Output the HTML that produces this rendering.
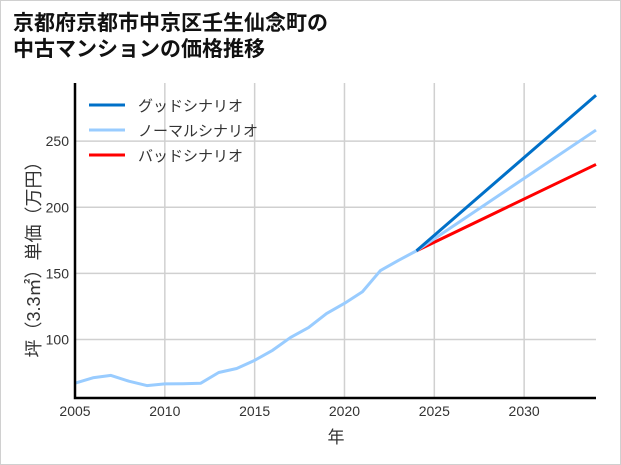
<!DOCTYPE html>
<html><head><meta charset="utf-8"><style>
body{margin:0;background:#fff}
#wrap{position:relative;width:619px;height:463px;border:1px solid #d0d0d0;background:#fff;font-family:"Liberation Sans","Noto Sans CJK JP",sans-serif}
h1{position:absolute;left:12px;top:8px;margin:0;font-size:21px;line-height:26px;font-weight:bold;color:#111;font-family:"Noto Sans CJK JP",sans-serif}
svg text{font-family:"Liberation Sans","Noto Sans CJK JP",sans-serif}
</style></head><body>
<div id="wrap">
<h1>京都府京都市中京区壬生仙念町の<br>中古マンションの価格推移</h1>
<svg id="chart" width="621" height="465" style="position:absolute;left:-1px;top:-1px"></svg>
</div>
<script>
const years=[2005,2006,2007,2008,2009,2010,2011,2012,2013,2014,2015,2016,2017,2018,2019,2020,2021,2022,2023,2024];
const history=[66.9,71,72.8,68.4,65.1,66.4,66.5,66.9,75,78,84.2,91.8,101.5,109,119.6,127.3,136.1,152.1,159.8,167];
const scenarioYears=[2024,2034];
const goodValues=[167,284.7];
const normalValues=[167,258.4];
const badValues=[167,232.4];
const xTicks=[2005,2010,2015,2020,2025,2030];
const yTicks=[100,150,200,250];
const legendLabels=["グッドシナリオ","ノーマルシナリオ","バッドシナリオ"];

const L=75,R=596,T=83,B=398;
const xMin=2005,xMax=2034,yMin=55.7,yMax=294;
const X=v=>L+(v-xMin)/(xMax-xMin)*(R-L);
const Y=v=>B-(v-yMin)/(yMax-yMin)*(B-T);
const svg=document.getElementById('chart');
const NS='http://www.w3.org/2000/svg';
function mk(tag,attrs){const e=document.createElementNS(NS,tag);for(const k in attrs)e.setAttribute(k,attrs[k]);svg.appendChild(e);return e;}

xTicks.forEach(t=>{
  const g=mk('line',{x1:X(t),x2:X(t),y1:T,y2:B,stroke:'#d0d0d0','stroke-width':1.5});
  
  
  const tx=mk('text',{x:X(t),y:B+18,'text-anchor':'middle','font-size':14,fill:'#333'});
  tx.textContent=t;
  
  
});
yTicks.forEach(t=>{
  const g=mk('line',{x1:L,x2:R,y1:Y(t),y2:Y(t),stroke:'#d0d0d0','stroke-width':1.5});
  
  
  const tx=mk('text',{x:L-6,y:Y(t)+5,'text-anchor':'end','font-size':14,fill:'#333'});
  tx.textContent=t;
  
  
});
function line(xs,ys,color,name){
  const p=mk('polyline',{points:xs.map((x,i)=>X(x)+','+Y(ys[i])).join(' '),fill:'none',stroke:color,'stroke-width':3,'stroke-linejoin':'round'});
  
  
}
line(scenarioYears,badValues,'#ff0000','bad-scenario-line');
line(scenarioYears,normalValues,'#99ccff','normal-scenario-line');
line(scenarioYears,goodValues,'#0070c8','good-scenario-line');
line(years,history,'#99ccff','history-line');
const ax=mk('path',{d:`M${L},${T} V${B} H${R}`,fill:'none',stroke:'#000','stroke-width':2.5});


const colors=['#0070c8','#99ccff','#ff0000'];
legendLabels.forEach((lab,i)=>{
  const y=105+i*25;
  const l=mk('line',{x1:89,x2:125,y1:y,y2:y,stroke:colors[i],'stroke-width':3});
  
  
  const t=mk('text',{x:138,y:y+6,'font-size':15,fill:'#333'});
  t.textContent=lab;
  
  
});
const xl=mk('text',{x:336,y:443,'text-anchor':'middle','font-size':17,fill:'#333'});
xl.textContent='年';


const yl=mk('text',{x:0,y:0,'text-anchor':'middle','font-size':18,fill:'#333',transform:'translate(40,255) rotate(-90)'});
yl.textContent='坪（3.3㎡）単価（万円）';


</script>
</body></html>
